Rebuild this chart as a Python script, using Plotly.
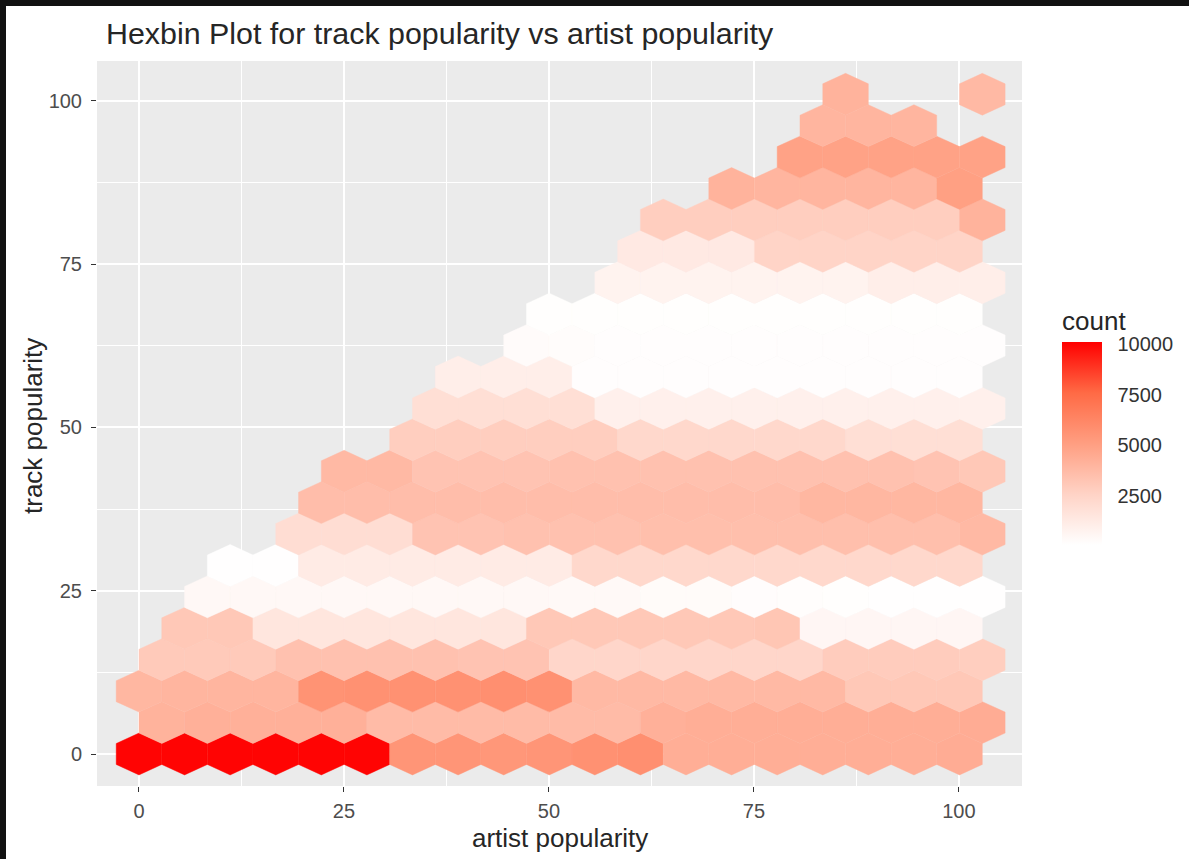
import plotly.graph_objects as go
from plotly.colors import sample_colorscale

# Hexbin grid: bin widths in data units
bin_width = 5.56
row_height = 4.81

# One list of counts per hex row, bottom to top; row_start = first occupied column
row_start = [0, 0, 0, 0, 1, 1, 2, 3, 4, 4, 6, 6, 7, 8, 9, 10, 11, 11, 13, 14, 15, 15]
row_00 = [10000, 10000, 10000, 10000, 10000, 10000, 5500, 5500, 5400, 5500, 5700, 5800, 4300, 4300, 4300, 4300, 4300, 4300, 4400]
row_01 = [4100, 4200, 4200, 4200, 4200, 3700, 3700, 3700, 3700, 3700, 3700, 4200, 4300, 4300, 4300, 4300, 4300, 4300, 4400]
row_02 = [3900, 4000, 4000, 4000, 5600, 5700, 5700, 5700, 5800, 5700, 3800, 3800, 3800, 3800, 3800, 3800, 3100, 3100, 3100]
row_03 = [3000, 3000, 3000, 3400, 3400, 3400, 3400, 3300, 3300, 2400, 2400, 2400, 2400, 2400, 2400, 2900, 2900, 2900, 2800]
row_04 = [3100, 3100, 1500, 1500, 1500, 1500, 1500, 1500, 3100, 3100, 3100, 3100, 3100, 3200, 550, 550, 550, 550]
row_05 = [450, 450, 450, 450, 450, 450, 450, 450, 400, 400, 300, 300, 200, 180, 120, 100, 100, 100]
row_06 = [100, 100, 1200, 1200, 1200, 1200, 1200, 1200, 2300, 2300, 2300, 2300, 2300, 2300, 2300, 2300, 2300]
row_07 = [2000, 2000, 2000, 3300, 3300, 3400, 3400, 3400, 3500, 3500, 3500, 3500, 3500, 3500, 3500, 3800]
row_08 = [3600, 3600, 3600, 3600, 3600, 3600, 3600, 3600, 3600, 3600, 3600, 3900, 3900, 3900, 3900]
row_09 = [3800, 3800, 3300, 3300, 3300, 3400, 3400, 3400, 3400, 3400, 3400, 3400, 3400, 3300, 3100]
row_10 = [2800, 2800, 2800, 2800, 2800, 2300, 2300, 2300, 2300, 2300, 1900, 1900, 1900]
row_11 = [1900, 1900, 1900, 1900, 900, 900, 900, 900, 900, 900, 900, 900, 900]
row_12 = [1000, 1000, 1000, 150, 150, 150, 150, 150, 150, 150, 150, 150]
row_13 = [250, 220, 150, 150, 150, 150, 150, 150, 150, 150, 150]
row_14 = [130, 130, 130, 130, 130, 130, 130, 130, 130, 130]
row_15 = [750, 750, 750, 750, 750, 750, 1000, 1000, 1000]
row_16 = [1300, 1300, 1300, 2500, 2500, 2500, 2500, 2500]
row_17 = [2800, 2800, 2800, 2800, 2800, 2800, 2800, 4100]
row_18 = [4100, 4000, 4000, 4000, 4000, 5000]
row_19 = [4900, 4900, 4900, 4900, 4900]
row_20 = [4000, 4000, 4000]
row_21 = [4100, None, None, 3800]
rows = [row_00, row_01, row_02, row_03, row_04, row_05, row_06, row_07, row_08, row_09, row_10,
        row_11, row_12, row_13, row_14, row_15, row_16, row_17, row_18, row_19, row_20, row_21]

x_ticks = [0, 25, 50, 75, 100]
y_ticks = [0, 25, 50, 75, 100]
legend_ticks = [2500, 5000, 7500, 10000]
count_min, count_max = 50, 10100

# ggplot's white-to-red gradient (Lab interpolated)
fill_scale = [[0, "#FFFFFF"], [0.25, "#FFD3C6"], [0.5, "#FF9E81"], [0.75, "#FF6A45"], [1, "#FF0000"]]

W, H = 1189, 859
PX0, PX1, PY0, PY1 = 97, 1022, 61, 786
BAR_L, BAR_R, BAR_T, BAR_B = 1062, 1102, 340, 545
TITLE_SPACE = 33
TEXT = "#262626"


def px(v):
    return (v - PX0) / (PX1 - PX0)


def py(v):
    return (PY1 - v) / (PY1 - PY0)


fig = go.Figure()
for r, (start, counts) in enumerate(zip(row_start, rows)):
    offset = bin_width / 2 if r % 2 else 0
    cy = r * row_height
    for i, c in enumerate(counts):
        if c is None:
            continue
        cx = (start + i) * bin_width + offset
        dx, dy = bin_width / 2, row_height / 3
        xs = [cx, cx + dx, cx + dx, cx, cx - dx, cx - dx, cx]
        ys = [cy + 2 * dy, cy + dy, cy - dy, cy - 2 * dy, cy - dy, cy + dy, cy + 2 * dy]
        t = (c - count_min) / (count_max - count_min)
        col = sample_colorscale(fill_scale, [t], colortype="rgb")[0]
        fig.add_trace(go.Scatter(x=xs, y=ys, mode="lines", fill="toself", fillcolor=col,
                                 line=dict(color=col, width=0.4), showlegend=False, hoverinfo="skip"))

# Carrier of the colour legend
fig.add_trace(go.Scatter(
    x=[0, 0], y=[0, 0], mode="markers", showlegend=False, hoverinfo="skip",
    marker=dict(size=1, opacity=0, color=[count_min, count_max], cmin=count_min, cmax=count_max,
                colorscale=fill_scale,
                colorbar=dict(
                    title=dict(text="count", side="top", font=dict(size=26, color=TEXT)),
                    thickness=BAR_R - BAR_L, thicknessmode="pixels",
                    len=BAR_B - BAR_T + TITLE_SPACE, lenmode="pixels",
                    x=px(BAR_L), xanchor="left", xpad=0, y=py(BAR_B), yanchor="bottom", ypad=0,
                    outlinewidth=0, tickvals=legend_ticks, ticktext=[str(v) for v in legend_ticks],
                    ticks="outside", ticklen=12, tickcolor="rgba(255,255,255,0)", tickwidth=1,
                    tickfont=dict(size=20, color="#333333")))))


def legend_y(v):
    return BAR_B - (v - count_min) / (count_max - count_min) * (BAR_B - BAR_T)


legend_marks = []
for v in legend_ticks[:-1]:
    for a, b in ((BAR_L, BAR_L + 8), (BAR_R - 8, BAR_R)):
        legend_marks.append(dict(type="line", xref="paper", yref="paper", x0=px(a), x1=px(b),
                                 y0=py(legend_y(v)), y1=py(legend_y(v)),
                                 line=dict(color="rgba(255,255,255,0.8)", width=1), layer="above"))

axis_common = dict(showline=False, zeroline=False, ticks="outside", ticklen=5, tickwidth=1.3,
                   tickcolor="#333333", tickfont=dict(size=20, color="#4D4D4D"), automargin=False,
                   showgrid=True, gridcolor="#FFFFFF", gridwidth=1.7)
minor_grid = dict(dtick=12.5, tick0=0, showgrid=True, gridcolor="#FFFFFF", gridwidth=0.8, ticks="")

fig.update_layout(
    width=W, height=H, autosize=False,
    margin=dict(l=PX0, r=W - PX1, t=PY0, b=H - PY1, pad=0),
    paper_bgcolor="#FFFFFF", plot_bgcolor="#EBEBEB",
    font=dict(family="Liberation Sans, Arial, sans-serif"),
    title=dict(text="Hexbin Plot for track popularity vs artist popularity",
               x=106 / W, xref="container", xanchor="left", y=1 - 33 / H, yanchor="middle",
               font=dict(size=30.4, color=TEXT)),
    xaxis=dict(range=[-5.12, 107.7], tickvals=x_ticks, ticklabelstandoff=2, minor=minor_grid, **axis_common),
    yaxis=dict(range=[-4.9, 106.1], tickvals=y_ticks, ticklabelstandoff=5, minor=minor_grid, **axis_common),
    annotations=[
        dict(text="artist popularity", xref="paper", yref="paper", x=px(559.5), y=py(838),
             xanchor="center", yanchor="middle", showarrow=False, font=dict(size=26, color=TEXT)),
        dict(text="track popularity", xref="paper", yref="paper", x=px(33), y=py(426), textangle=-90,
             xanchor="center", yanchor="middle", showarrow=False, font=dict(size=26, color=TEXT)),
    ],
    shapes=legend_marks + [
        dict(type="rect", xref="paper", yref="paper", x0=px(0), x1=px(6), y0=py(H), y1=py(0),
             fillcolor="#111111", line=dict(width=0), layer="above"),
        dict(type="rect", xref="paper", yref="paper", x0=px(0), x1=px(W), y0=py(6), y1=py(0),
             fillcolor="#111111", line=dict(width=0), layer="above"),
    ],
)

fig.write_html("out.html", config={"displayModeBar": False},
               post_script="document.body.style.margin='0';document.body.style.overflow='hidden';")
